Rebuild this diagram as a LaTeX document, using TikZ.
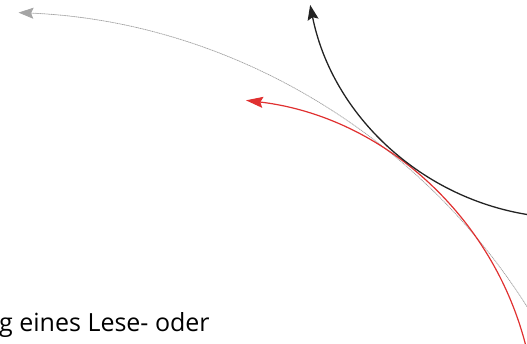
\documentclass[tikz,border=0pt]{standalone}
\usepackage{fontspec}
\setmainfont{Open Sans}
\usetikzlibrary{arrows.meta}
\definecolor{leserot}{RGB}{224,48,48}
\definecolor{lesegrau}{RGB}{165,165,165}
\definecolor{leseschwarz}{RGB}{35,35,35}
\begin{document}
\begin{tikzpicture}[x=1pt,y=1pt,
  bahn/.style={line cap=round},
  spitze/.style={-{Stealth[length=#1,width=11pt,inset=2.5pt]}}]
\useasboundingbox (0,0) rectangle (527,343);
\clip (0,0) rectangle (527,343);
\draw[bahn, lesegrau, densely dotted, line width=0.8pt, spitze=15pt] (-8,-302) ++(32:633) arc[start angle=32, end angle=87.6, radius=633];
\draw[bahn, leserot, line width=1.2pt, spitze=17pt] (207,-84) ++(13:329) arc[start angle=13, end angle=83.2, radius=329];
\draw[bahn, leseschwarz, line width=1.3pt, spitze=15pt] (570,390) ++(262:265) arc[start angle=262, end angle=191.3, radius=265];
\node[anchor=base west, inner sep=0pt, font=\fontsize{25}{30}\selectfont] (zeile) at (-1,12) {g eines Lese- oder};
\end{tikzpicture}
\end{document}
